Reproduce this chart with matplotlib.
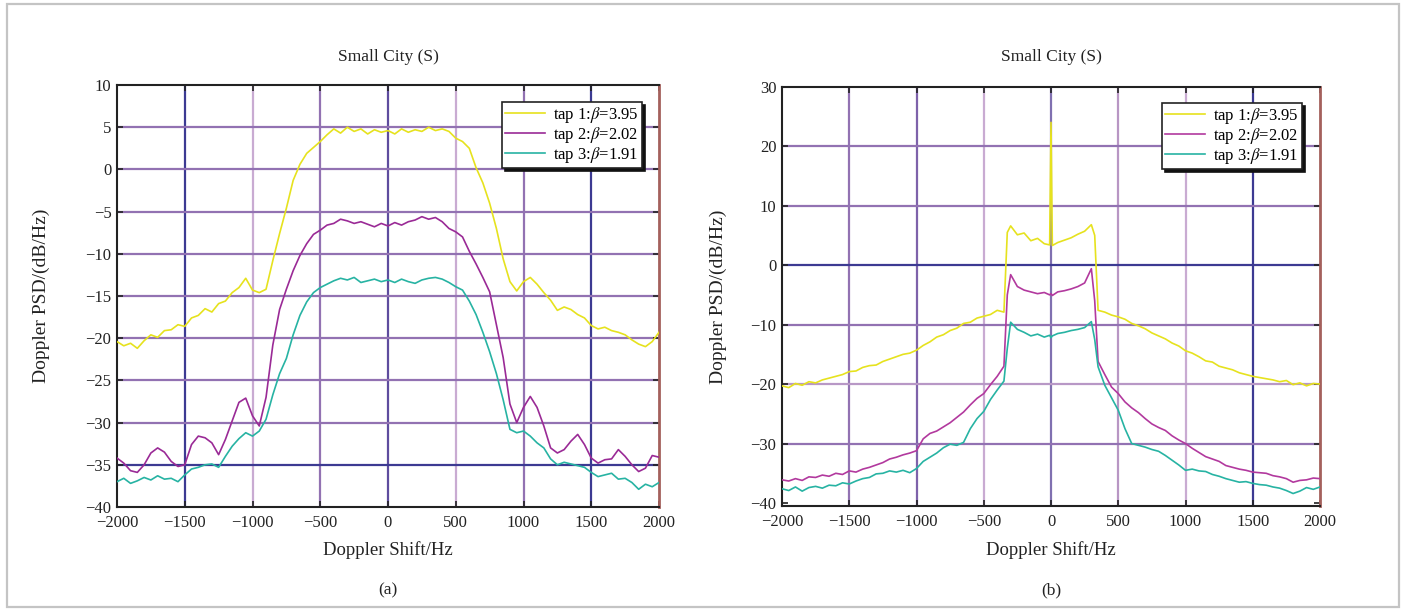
import numpy as np
import matplotlib
matplotlib.use("Agg")
import matplotlib.pyplot as plt
from matplotlib.patches import Rectangle

plt.rcParams['font.family'] = ['Liberation Serif', 'DejaVu Serif']
plt.rcParams['mathtext.fontset'] = 'stix'

# ---------------- data ----------------
labels = ["tap 1:$\\beta$=3.95", "tap 2:$\\beta$=2.02", "tap 3:$\\beta$=1.91"]
title = "Small City (S)"

freq_a = np.arange(-2000, 2001, 50)
tap1_a = [-20.4, -20.9, -20.6, -21.2, -20.3, -19.6, -19.9, -19.1, -19.0, -18.4,
          -18.6, -17.6, -17.3, -16.5, -16.9, -15.9, -15.6, -14.6, -14.0, -12.9,
          -14.3, -14.6, -14.2, -10.8, -7.6, -4.6, -1.3, 0.6, 1.9, 2.6,
          3.3, 4.1, 4.8, 4.3, 5.0, 4.5, 4.8, 4.2, 4.7, 4.4,
          4.6, 4.2, 4.8, 4.4, 4.7, 4.5, 5.0, 4.6, 4.8, 4.5,
          3.7, 3.3, 2.5, 0.2, -1.6, -4.0, -7.0, -10.6, -13.3, -14.4,
          -13.3, -12.8, -13.6, -14.6, -15.5, -16.7, -16.3, -16.6, -17.2, -17.6,
          -18.5, -18.9, -18.7, -19.1, -19.3, -19.6, -20.2, -20.7, -21.0, -20.4,
          -19.3]
tap2_a = [-34.2, -34.8, -35.7, -35.9, -35.0, -33.6, -33.0, -33.5, -34.6, -35.2,
          -35.0, -32.6, -31.6, -31.8, -32.4, -33.8, -32.0, -29.8, -27.6, -27.1,
          -29.2, -30.4, -27.0, -20.8, -16.6, -14.2, -12.0, -10.2, -8.8, -7.7,
          -7.2, -6.6, -6.4, -5.9, -6.1, -6.4, -6.2, -6.5, -6.8, -6.4,
          -6.7, -6.3, -6.6, -6.2, -6.0, -5.6, -5.9, -5.7, -6.2, -7.0,
          -7.4, -8.0, -9.7, -11.2, -12.8, -14.5, -18.4, -22.3, -27.8, -30.0,
          -28.2, -26.9, -28.2, -30.4, -33.0, -33.6, -33.2, -32.2, -31.4, -32.6,
          -34.2, -34.8, -34.4, -34.3, -33.2, -34.0, -35.0, -35.8, -35.4, -33.9,
          -34.1]
tap3_a = [-37.0, -36.6, -37.2, -36.9, -36.5, -36.8, -36.3, -36.7, -36.6, -37.0,
          -36.2, -35.5, -35.3, -35.0, -34.9, -35.3, -34.0, -32.8, -31.9, -31.2,
          -31.6, -31.0, -29.6, -26.7, -24.2, -22.4, -19.6, -17.3, -15.7, -14.6,
          -14.0, -13.6, -13.2, -12.9, -13.1, -12.8, -13.4, -13.2, -13.0, -13.3,
          -13.1, -13.4, -13.0, -13.3, -13.5, -13.1, -12.9, -12.8, -13.0, -13.4,
          -13.9, -14.3, -15.6, -17.2, -19.3, -21.6, -24.2, -27.3, -30.8, -31.2,
          -31.0, -31.6, -32.4, -33.0, -34.3, -35.0, -34.7, -34.9, -35.1, -35.3,
          -35.9, -36.4, -36.2, -36.0, -36.7, -36.6, -37.1, -37.9, -37.3, -37.6,
          -37.1]

freq_b = ([-2000, -1950, -1900, -1850, -1800, -1750, -1700, -1650, -1600, -1550,
           -1500, -1450, -1400, -1350, -1300, -1250, -1200, -1150, -1100, -1050,
           -1000, -950, -900, -850, -800, -750, -700, -650, -600, -550,
           -500, -450, -400, -350]
          + [-325, -300, -250, -200, -150, -100, -50, -10, 0, 10,
             50, 100, 150, 200, 250, 300, 325]
          + [350, 400, 450, 500, 550, 600, 650, 700, 750, 800,
             850, 900, 950, 1000, 1050, 1100, 1150, 1200, 1250, 1300,
             1350, 1400, 1450, 1500, 1550, 1600, 1650, 1700, 1750, 1800,
             1850, 1900, 1950, 2000])
tap1_b = ([-20.3, -20.6, -19.9, -20.2, -19.6, -19.8, -19.3, -19.0, -18.7, -18.4,
           -17.9, -17.8, -17.2, -16.9, -16.8, -16.2, -15.8, -15.4, -15.0, -14.8,
           -14.3, -13.5, -12.9, -12.1, -11.7, -11.0, -10.6, -9.8, -9.6, -8.9,
           -8.6, -8.3, -7.6, -7.9]
          + [5.5, 6.6, 5.1, 5.4, 4.1, 4.5, 3.6, 3.4, 24.0, 3.3,
             3.8, 4.2, 4.6, 5.2, 5.7, 6.8, 5.0]
          + [-7.6, -7.9, -8.4, -8.7, -9.1, -9.8, -10.2, -10.7, -11.4, -11.9,
             -12.4, -13.1, -13.6, -14.4, -14.8, -15.4, -16.1, -16.3, -17.0, -17.3,
             -17.6, -18.1, -18.4, -18.7, -18.9, -19.1, -19.3, -19.6, -19.4, -20.1,
             -19.8, -20.3, -19.9, -20.0])
tap2_b = ([-36.1, -36.3, -35.9, -36.2, -35.6, -35.7, -35.3, -35.5, -35.0, -35.2,
           -34.6, -34.8, -34.3, -34.0, -33.6, -33.2, -32.6, -32.3, -31.9, -31.6,
           -31.2, -29.2, -28.3, -27.9, -27.2, -26.5, -25.6, -24.7, -23.5, -22.4,
           -21.6, -20.1, -18.7, -17.0]
          + [-5.0, -1.6, -3.6, -4.2, -4.5, -4.8, -4.6, -5.0, -4.8, -5.1,
             -4.5, -4.3, -4.0, -3.6, -3.0, -0.6, -6.0]
          + [-16.2, -18.4, -20.5, -21.6, -23.0, -24.0, -24.8, -25.8, -26.7, -27.3,
             -27.8, -28.7, -29.4, -30.0, -30.8, -31.5, -32.2, -32.6, -33.0, -33.7,
             -34.0, -34.3, -34.5, -34.8, -34.9, -35.0, -35.4, -35.6, -35.9, -36.5,
             -36.2, -36.1, -35.8, -35.9])
tap3_b = ([-37.6, -37.9, -37.3, -38.0, -37.4, -37.2, -37.5, -37.0, -37.1, -36.6,
           -36.8, -36.3, -35.9, -35.7, -35.1, -35.0, -34.6, -34.8, -34.5, -34.9,
           -34.2, -33.0, -32.3, -31.6, -30.7, -30.1, -30.3, -29.8, -27.5, -25.8,
           -24.6, -22.6, -21.0, -19.5]
          + [-14.0, -9.6, -10.8, -11.3, -11.9, -11.6, -12.1, -11.8, -12.2, -11.9,
             -11.5, -11.3, -11.0, -10.8, -10.5, -9.5, -12.5]
          + [-17.1, -20.2, -22.3, -24.4, -27.5, -30.0, -30.3, -30.6, -31.0, -31.3,
             -32.0, -32.8, -33.6, -34.5, -34.3, -34.6, -34.7, -35.2, -35.5, -35.9,
             -36.2, -36.5, -36.4, -36.7, -36.9, -37.0, -37.3, -37.5, -37.9, -38.4,
             -38.0, -37.4, -37.7, -37.3])

xticks = [-2000, -1500, -1000, -500, 0, 500, 1000, 1500, 2000]
yticks_a = [-40, -35, -30, -25, -20, -15, -10, -5, 0, 5, 10]
yticks_b = [-40, -30, -20, -10, 0, 10, 20, 30]

# ---------------- style ----------------
YEL = '#e6e21e'
MAG_A = '#9a2a96'
MAG_B = '#b2399e'
TEAL = '#27b3a3'
P_MID = '#9272b2'
P_LIGHT = '#c9abd2'
P_DARK = '#3c3a92'

vgrid_a = [P_DARK, P_LIGHT, P_MID, '#5e4c9e', P_LIGHT, P_MID, P_DARK]
hgrid_a = {-35: P_DARK}
vgrid_b = [P_MID, '#7e62aa', P_LIGHT, '#8070b0', '#b896c4', P_LIGHT, P_DARK]
hgrid_b = {0: P_DARK, -20: '#b898c6'}

fig = plt.figure(figsize=(14.06, 6.10), dpi=100)
W, H = 1406, 610

# outer frame
fig.add_artist(Rectangle((7 / W, 3 / H), (1399 - 7) / W, (606 - 3) / H,
                         transform=fig.transFigure, fill=False,
                         edgecolor='#c4c4c4', lw=1.6))


def panel(rect, freq, series, colors, yticks, vcols, hcols, ylim, leg_anchor,
          tag, ylab_x, xlab_y, title_y):
    ax = fig.add_axes(rect)
    for xv, c in zip(xticks[1:-1], vcols):
        ax.axvline(xv, color=c, lw=1.6, zorder=1)
    for yv in yticks[1:-1]:
        ax.axhline(yv, color=hcols.get(yv, P_MID), lw=1.6, zorder=1)
    for s, c, lab in zip(series, colors, labels):
        ax.plot(freq, s, color=c, lw=1.2, label=lab, zorder=3)
    ax.set_xlim(-2000, 2000)
    ax.set_ylim(*ylim)
    ax.set_xticks(xticks)
    ax.set_xticklabels([str(v).replace('-', '\u2212') for v in xticks])
    ax.set_yticks(yticks)
    ax.set_yticklabels([str(v).replace('-', '\u2212') for v in yticks])
    ax.tick_params(direction='in', length=4, width=1.2, top=True, right=True,
                   labelsize=12, colors='#222222')
    ax.tick_params(axis='x', pad=6)
    ax.tick_params(axis='y', pad=4)
    for side in ['left', 'bottom', 'top']:
        ax.spines[side].set_color('#222222')
        ax.spines[side].set_linewidth(1.5)
    ax.spines['right'].set_color('#a4605c')
    ax.spines['right'].set_linewidth(2.0)
    cx = rect[0] + rect[2] / 2
    fig.text(cx, 1 - title_y / H, title, ha='center', va='center',
             fontsize=12.5, color='#222222')
    fig.text(cx, 1 - xlab_y / H, 'Doppler Shift/Hz', ha='center', va='center',
             fontsize=13.5, color='#222222')
    fig.text(ylab_x / W, rect[1] + rect[3] / 2, 'Doppler PSD/(dB/Hz)',
             ha='center', va='center', rotation=90, fontsize=14,
             color='#222222')
    leg = ax.legend(loc='upper right', bbox_to_anchor=leg_anchor,
                    bbox_transform=fig.transFigure, fontsize=12,
                    frameon=True, fancybox=False, handlelength=2.4,
                    handletextpad=0.5, borderpad=0.18, labelspacing=0.0,
                    borderaxespad=0,
                    shadow={'color': '#111111', 'alpha': 1.0})
    leg.get_frame().set_edgecolor('#222222')
    leg.get_frame().set_linewidth(1.2)
    leg.get_frame().set_alpha(1.0)
    leg.set_zorder(5)
    fig.text(cx, 1 - 590 / H, tag, ha='center', va='center', fontsize=12.5,
             color='#222222')
    return ax


panel([117 / W, (H - 507) / H, 542 / W, 422 / H], freq_a,
      [tap1_a, tap2_a, tap3_a], [YEL, MAG_A, TEAL], yticks_a,
      vgrid_a, hgrid_a, (-40, 10), (642 / W, 1 - 102 / H), '(a)',
      41, 550, 57)
panel([782 / W, (H - 506) / H, 538 / W, 419.3 / H], freq_b,
      [tap1_b, tap2_b, tap3_b], [YEL, MAG_B, TEAL], yticks_b,
      vgrid_b, hgrid_b, (-40.5, 30), (1302 / W, 1 - 103 / H), '(b)',
      718, 550, 57)

fig.savefig('out.png', dpi=100)
